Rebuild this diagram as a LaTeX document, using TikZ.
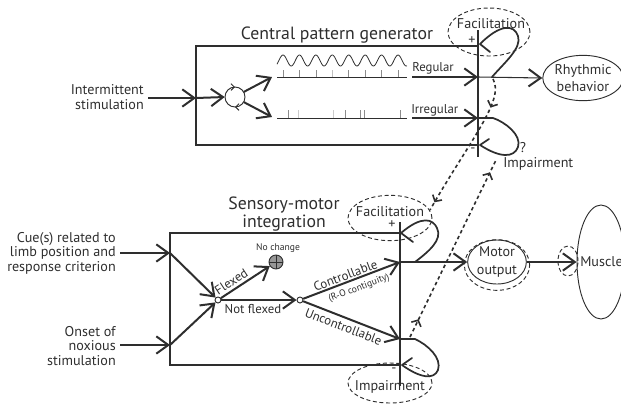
\documentclass[tikz,border=0pt]{standalone}
\usepackage{fontspec}
\setmainfont{PT Sans}
\usetikzlibrary{arrows.meta,shapes.geometric,decorations.markings}
\definecolor{ink}{HTML}{2E2E2E}
\begin{document}
\begin{tikzpicture}[x=0.75pt,y=-0.75pt,
  every node/.style={text=ink, inner sep=0pt},
  lblmain/.style={font=\fontsize{10.6}{10.9}\selectfont},
  lblsmall/.style={font=\fontsize{9.6}{10}\selectfont},
  lbltiny/.style={font=\fontsize{7.2}{8}\selectfont},
  heading/.style={font=\fontsize{13.3}{13.5}\selectfont, align=center},
  boxline/.style={draw=ink, line width=1pt},
  flowarrow/.style={draw=ink, line width=1.5pt, -{Straight Barb[length=9pt,width=13pt]}},
  thinarrow/.style={draw=ink, line width=0.8pt, -{Straight Barb[length=9pt,width=13pt,line width=1.5pt]}},
  fineline/.style={draw=ink, line width=0.7pt},
  tickline/.style={draw=ink!55, line width=0.5pt},
  loopline/.style={draw=ink, line width=1.3pt, line join=round, line cap=round},
  dashzone/.style={draw=ink, ellipse, line width=0.7pt, dash pattern=on 3pt off 2pt},
  solidzone/.style={draw=ink, ellipse, line width=0.7pt},
  crosslink/.style={draw=ink, line width=1.2pt, dash pattern=on 2.6pt off 2.2pt},
  linkmarks/.style n args={2}{decoration={markings,
      mark=at position #1 with {\arrow{Straight Barb[length=3.5pt,width=8pt]}},
      mark=at position #2 with {\arrow{Straight Barb[length=3.5pt,width=8pt]}}},
      postaction={decorate}},
  junction/.style={circle, draw=ink, fill=white, line width=0.7pt, minimum size=4.5pt},
]
\useasboundingbox (0,0) rectangle (621,405);
\clip (0,0) rectangle (621,405);

% ---------------- Central pattern generator ----------------
\node[heading] (cpgTitle) at (337,35) {Central pattern generator};
\draw[boxline] (478,46) -- (196,46) -- (196,145) -- (478,145);
\draw[boxline] (478,30) -- (478,157);

\node[lblmain, anchor=east, align=right] (intStim) at (144,97) {Intermittent\\stimulation};
\coordinate (intS) at (148,98);
\coordinate (cpgIn) at (196,98);
\node[circle, minimum size=15pt] (osc) at (235,97) {};
\draw[fineline, decoration={markings,
    mark=at position 0.25 with {\arrow{Straight Barb[length=2.5pt,width=5pt]}},
    mark=at position 0.75 with {\arrow{Straight Barb[length=2.5pt,width=5pt]}}},
    postaction={decorate}] (osc.center) circle[radius=10];
\draw[flowarrow] (intS) -- (cpgIn);
\draw[flowarrow] (cpgIn) -- (osc.west);
\coordinate (regTip) at (272,77);
\coordinate (irrTip) at (272,117);
\draw[flowarrow] (osc.30) -- (regTip);
\draw[flowarrow] (osc.-30) -- (irrTip);

% regular discharge: wave and evenly spaced spikes
\draw[draw=ink, line width=0.6pt] plot[domain=277:407, samples=160, smooth]
  (\x,{60.5-5.5*cos(21.91*(\x-283))});
\draw[fineline] (277,77) -- (407,77);
\foreach \k in {0,1,2,4,5,6,7}
  \draw[tickline] ({283+16.43*\k},70) -- ({283+16.43*\k},77);
\draw[draw=ink!30, line width=0.5pt] ({283+16.43*3},70) -- ({283+16.43*3},77);

% irregular discharge
\draw[fineline] (277,118) -- (407,118);
\foreach \t in {288,345,360,364,400}
  \draw[tickline] (\t,110) -- (\t,118);
\foreach \t in {298,333}
  \draw[draw=ink!25, line width=0.5pt] (\t,110) -- (\t,118);

\coordinate (regS) at (412,77);
\coordinate (cpgR1) at (478,77);
\coordinate (irrS) at (412,118);
\coordinate (cpgR2) at (478,118);
\draw[flowarrow] (regS) -- (cpgR1);
\draw[flowarrow] (irrS) -- (cpgR2);
\node[lblsmall, anchor=base west] (regLbl) at (412,71) {Regular};
\node[lblsmall, anchor=base west] (irrLbl) at (411,113) {Irregular};

\node[solidzone, minimum width=56pt, minimum height=34pt, align=center,
      font=\fontsize{10.6}{12.6}\selectfont] (rhythm) at (583,78) {Rhythmic\\behavior};
\draw[thinarrow] (cpgR1) -- (rhythm.west);

% facilitation / impairment loops of the generator
\node[dashzone, minimum width=61.5pt, minimum height=36pt] (facTop) at (489,32) {};
\node[lblmain] (facTopLbl) at (491,24) {Facilitation};
\draw[loopline] (492,77) .. controls (505,62) and (522,48) .. (518,36)
  .. controls (514,24) and (500,24) .. (480,44) -- (490,52);
\draw[loopline] (478,118) -- (493,118) .. controls (505,122) and (522,135) .. (518,147)
  .. controls (514,158) and (500,158) .. (480,145) -- (489,139);
\node[lblmain] (plusTop) at (472,41) {+};
\node[lblmain] (minusTop) at (473,150) {-};
\node[lblmain] (qmark) at (523,148) {?};
\node[lblmain, anchor=west] (impTopLbl) at (503,164) {Impairment};

% ---------------- Sensory-motor integration ----------------
\node[heading] (smTitle) at (284,214) {Sensory-motor\\integration};
\draw[boxline] (400,233) -- (170,233) -- (170,365) -- (400,365);
\draw[boxline] (400,222) -- (400,386);

\node[lblmain, anchor=east, align=right] (cue) at (116,253)
  {Cue(s) related to\\limb position and\\response criterion};
\node[lblmain, anchor=east, align=right] (onset) at (116,346)
  {Onset of\\noxious\\stimulation};
\coordinate (cueS) at (120,253);
\coordinate (smIn1) at (170,253);
\coordinate (onS) at (120,345);
\coordinate (smIn2) at (170,345);

\node[junction] (j1) at (218,300) {};
\node[junction] (j2) at (300,300) {};
\node[circle, draw=ink, fill=ink!50, line width=0.7pt, minimum size=10.5pt,
      path picture={\draw[ink, line width=0.6pt]
        (path picture bounding box.north) -- (path picture bounding box.south)
        (path picture bounding box.west) -- (path picture bounding box.east);}]
      (noChange) at (276,262) {};
\node[lbltiny] (noChangeLbl) at (278,248) {No change};

\draw[flowarrow] (cueS) -- (smIn1);
\draw[flowarrow] (onS) -- (smIn2);
\draw[flowarrow] (smIn1) -- (j1);
\draw[flowarrow] (smIn2) -- (j1);
\draw[flowarrow] (j1) -- node[lblsmall, sloped, above=1.8pt, pos=0.3] {Flexed} (noChange);
\draw[flowarrow] (j1) -- node[lblsmall, below=2.5pt, pos=0.42] {Not flexed} (j2);
\coordinate (smR1) at (400,262);
\coordinate (smR2) at (400,339);
\draw[flowarrow] (j2) --
  node[lblsmall, sloped, above=0.8pt, pos=0.46] {Controllable}
  node[lbltiny, sloped, below=3.4pt, pos=0.54] {(R-O contiguity)} (smR1);
\draw[flowarrow] (j2) --
  node[lblsmall, sloped, below=2.6pt, pos=0.45] {Uncontrollable} (smR2);

% motor output and muscle
\node[dashzone, minimum width=49pt, minimum height=38pt] (motorZone) at (497,265) {};
\node[solidzone, minimum width=44pt, minimum height=33pt, align=center,
      font=\fontsize{10.6}{13}\selectfont] (motor) at (497,262) {Motor\\output};
\draw[thinarrow] (smR1) -- (motor.west);
\node[solidzone, minimum width=36pt, minimum height=85.5pt] (muscle) at (601,262) {};
\node[lblmain, anchor=west] (muscleLbl) at (580,262) {Muscle};
\node[dashzone, minimum width=15pt, minimum height=22.5pt] (synZone) at (568,261) {};
\draw[thinarrow] (motor.east) -- (muscle.west);

% facilitation / impairment loops of the integration stage
\node[dashzone, minimum width=63pt, minimum height=34pt] (facLow) at (390,218) {};
\node[lblmain] (facLowLbl) at (390,212) {Facilitation};
\node[dashzone, minimum width=63pt, minimum height=30pt] (impLow) at (390,383) {};
\node[lblmain] (impLowLbl) at (390,387) {Impairment};
\draw[loopline] (415,262) .. controls (428,252) and (443,240) .. (437,228)
  .. controls (433,219) and (422,215) .. (401,233) -- (413,242);
\draw[loopline] (400,339) -- (415,339) .. controls (428,345) and (442,358) .. (438,370)
  .. controls (434,380) and (420,378) .. (402,365) -- (412,358);
\node[lblmain] (plusLow) at (392,225) {+};
\node[lblmain] (minusLow) at (394,370) {-};

% cross-links between the two stages
\coordinate (facTopOut) at (493,79);
\coordinate (facLowIn) at (430,210);
\coordinate (uncOut) at (410,337);
\coordinate (impTopIn) at (496,160);
\draw[crosslink, linkmarks={0.2}{0.94}] (facTopOut) .. controls (505,100) and (470,140) .. (facLowIn);
\draw[crosslink, linkmarks={0.1}{0.93}] (uncOut) -- (impTopIn);
\end{tikzpicture}
\end{document}
